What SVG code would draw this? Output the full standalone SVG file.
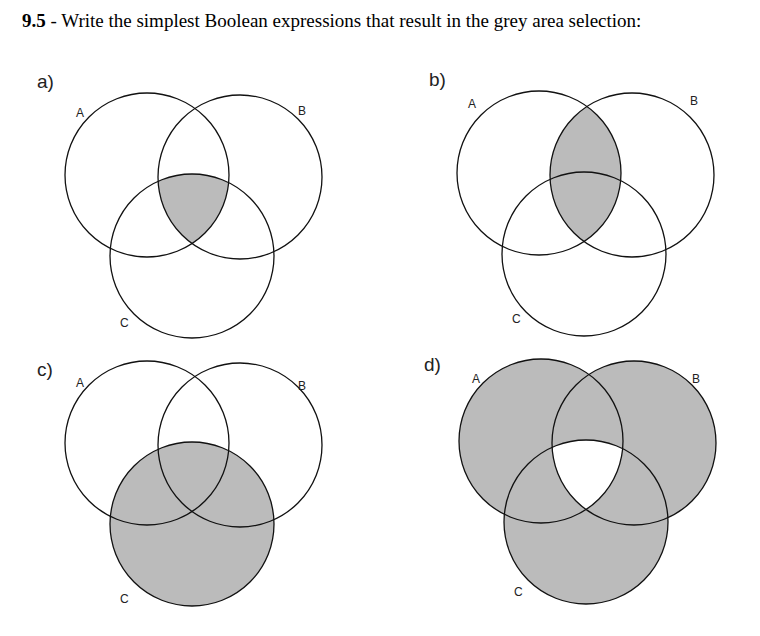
<svg xmlns="http://www.w3.org/2000/svg" width="760" height="636" viewBox="0 0 760 636">
<style>
.c{fill:none;stroke:#111;stroke-width:1.3}
.g{fill:#bbb}
.t{font-family:"Liberation Serif",serif;font-size:19px;fill:#000}
.l{font-family:"Liberation Sans",sans-serif;font-size:12px;fill:#222}
.p{font-family:"Liberation Sans",sans-serif;font-size:19px;fill:#222}
</style>
<defs>
<clipPath id="cA"><circle cx="147" cy="175" r="82"/></clipPath>
<clipPath id="cB"><circle cx="240" cy="177" r="82"/></clipPath>
<clipPath id="cC"><circle cx="192" cy="256" r="82"/></clipPath>
<mask id="mABC"><rect width="760" height="636" fill="#fff"/><g clip-path="url(#cA)"><g clip-path="url(#cB)"><circle cx="192" cy="256" r="82" fill="#000"/></g></g></mask>
</defs>
<text class="t" x="22" y="27"><tspan font-weight="bold">9.5</tspan> - Write the simplest Boolean expressions that result in the grey area selection:</text>
<g id="a">
<text class="p" x="37" y="88">a)</text>
<g clip-path="url(#cA)"><g clip-path="url(#cB)"><circle class="g" cx="192" cy="256" r="82"/></g></g>
<circle class="c" cx="147" cy="175" r="82"/><circle class="c" cx="240" cy="177" r="82"/><circle class="c" cx="192" cy="256" r="82"/>
<text class="l" x="76" y="117">A</text><text class="l" x="298" y="115">B</text><text class="l" x="120" y="327">C</text>
</g>
<g id="b" transform="translate(392,-2)">
<text class="p" x="37" y="88">b)</text>
<g clip-path="url(#cA)"><circle class="g" cx="240" cy="177" r="82"/></g>
<circle class="c" cx="147" cy="175" r="82"/><circle class="c" cx="240" cy="177" r="82"/><circle class="c" cx="192" cy="256" r="82"/>
<text class="l" x="76" y="110">A</text><text class="l" x="298" y="107">B</text><text class="l" x="120" y="325">C</text>
</g>
<g id="c" transform="translate(0,268)">
<text class="p" x="37" y="108">c)</text>
<circle class="g" cx="192" cy="256" r="82"/>
<circle class="c" cx="147" cy="175" r="82"/><circle class="c" cx="240" cy="177" r="82"/><circle class="c" cx="192" cy="256" r="82"/>
<text class="l" x="76" y="119">A</text><text class="l" x="298" y="122">B</text><text class="l" x="120" y="335">C</text>
</g>
<g id="d" transform="translate(394,266)">
<text class="p" x="30" y="105">d)</text>
<g mask="url(#mABC)"><circle class="g" cx="147" cy="175" r="82"/><circle class="g" cx="240" cy="177" r="82"/><circle class="g" cx="192" cy="256" r="82"/></g>
<circle class="c" cx="147" cy="175" r="82"/><circle class="c" cx="240" cy="177" r="82"/><circle class="c" cx="192" cy="256" r="82"/>
<text class="l" x="78" y="117">A</text><text class="l" x="298" y="117">B</text><text class="l" x="120" y="330">C</text>
</g>
</svg>
